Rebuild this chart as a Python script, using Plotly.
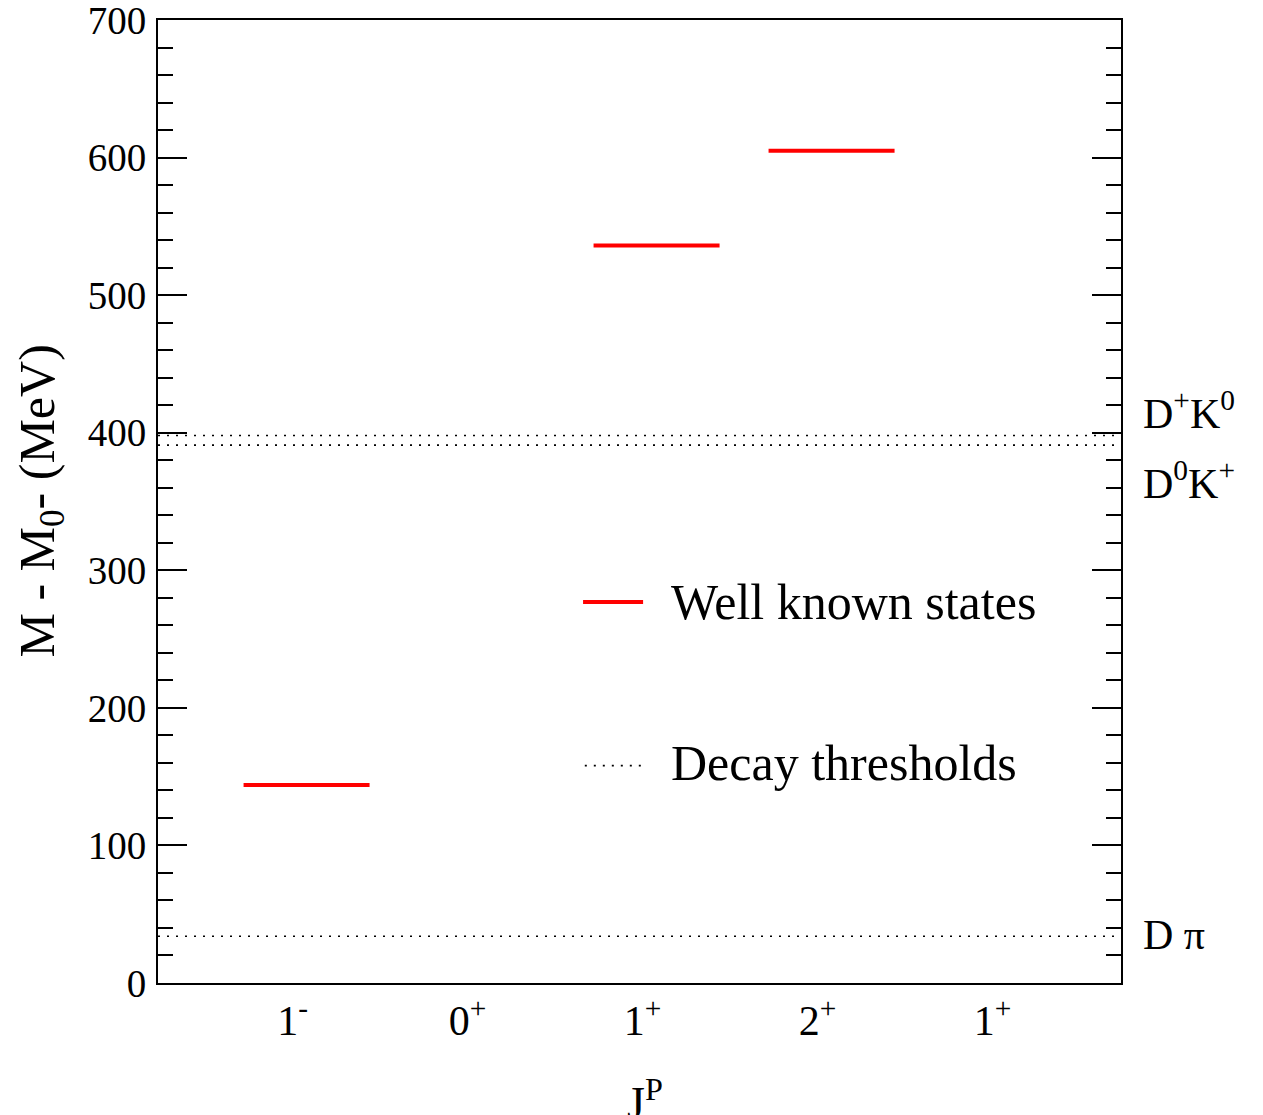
import plotly.graph_objects as go

# ---- data ----
jp_positions = [1, 2, 3, 4, 5]
jp_labels = ["1<sup>-</sup>", "0<sup>+</sup>", "1<sup>+</sup>", "2<sup>+</sup>", "1<sup>+</sup>"]

state_pos = [1, 3, 4]
state_mass = [144, 536, 605]          # MeV, "Well known states"

threshold_names = ["D<sup>+</sup>K<sup>0</sup>", "D<sup>0</sup>K<sup>+</sup>", "D π"]
threshold_vals = [398, 391, 34]       # MeV, decay thresholds

# ---- geometry / style ----
XMIN, XMAX = 0.151, 5.654
HALF = 0.36
FONT = "Liberation Serif, Times New Roman, serif"

fig = go.Figure()

# well known states (red horizontal bars)
xs, ys = [], []
for p, m in zip(state_pos, state_mass):
    xs += [p - HALF, p + HALF, None]
    ys += [m, m, None]
fig.add_trace(go.Scatter(x=xs, y=ys, mode="lines",
                         line=dict(color="#ff0000", width=4),
                         showlegend=False, hoverinfo="skip"))

# thresholds (dotted)
tx, ty = [], []
for v in threshold_vals:
    tx += [XMIN, XMAX, None]
    ty += [v, v, None]
fig.add_trace(go.Scatter(x=tx, y=ty, mode="lines",
                         line=dict(color="black", width=1.6, dash="2px,7px"),
                         showlegend=False, hoverinfo="skip"))

# threshold labels on the right
label_offsets = [18, -26, 1]
for name, v, off in zip(threshold_names, threshold_vals, label_offsets):
    fig.add_annotation(x=1.0, xref="paper", xshift=20, xanchor="left",
                       y=v + off, yref="y", yanchor="middle",
                       text=name, showarrow=False,
                       font=dict(family=FONT, size=42, color="black"))

# legend (drawn manually)
fig.add_shape(type="line", xref="x", yref="y",
              x0=2.58, x1=2.923, y0=277, y1=277,
              line=dict(color="#ff0000", width=4))
fig.add_shape(type="line", xref="x", yref="y",
              x0=2.59, x1=2.934, y0=158, y1=158,
              line=dict(color="black", width=1.6, dash="2px,7px"))
fig.add_annotation(x=3.07, y=277, xref="x", yref="y", xanchor="left", yanchor="middle",
                   text="Well known states", showarrow=False,
                   font=dict(family=FONT, size=50, color="black"))
fig.add_annotation(x=3.07, y=160, xref="x", yref="y", xanchor="left", yanchor="middle",
                   text="Decay thresholds", showarrow=False,
                   font=dict(family=FONT, size=50, color="black"))

# axis titles
fig.add_annotation(x=(40 - 158) / 963, xref="paper", y=0.5, yref="paper",
                   xanchor="center", yanchor="middle", textangle=-90,
                   text="M - M<sub>0</sub>- (MeV)", showarrow=False,
                   font=dict(family=FONT, size=50, color="black"))
fig.add_annotation(x=3.0, xref="x", xshift=-12, y=0, yref="paper", yshift=-86,
                   xanchor="center", yanchor="top",
                   text="J<sup>P</sup>", showarrow=False,
                   font=dict(family=FONT, size=46, color="black"))

fig.update_layout(
    width=1263, height=1115,
    margin=dict(l=158, r=142, t=20, b=132, autoexpand=False),
    plot_bgcolor="white", paper_bgcolor="white",
    font=dict(family=FONT, color="black"),
)
fig.update_xaxes(
    range=[XMIN, XMAX], showgrid=False, zeroline=False, automargin=False,
    showline=True, linecolor="black", linewidth=2, mirror=True,
    ticks="", tickmode="array",
    tickvals=[p - 0.08 for p in jp_positions], ticktext=jp_labels,
    tickfont=dict(family=FONT, size=42, color="black"),
    ticklabelstandoff=0,
)
fig.update_yaxes(
    range=[0, 700], showgrid=False, zeroline=False, automargin=False,
    showline=True, linecolor="black", linewidth=2, mirror="ticks",
    ticks="inside", ticklen=29, tickwidth=2, tickcolor="black",
    tickmode="array", tickvals=[0, 100, 200, 300, 400, 500, 600, 700],
    tickfont=dict(family=FONT, size=39, color="black"),
    ticklabelstandoff=2, ticklabeloverflow="allow",
    minor=dict(dtick=20, ticks="inside", ticklen=15, tickwidth=2, tickcolor="black"),
)

# remove the default 8px page margin so the figure fills the window exactly
fig.write_html("out.html", config={"displayModeBar": False},
               post_script="document.body.style.margin='0';")
